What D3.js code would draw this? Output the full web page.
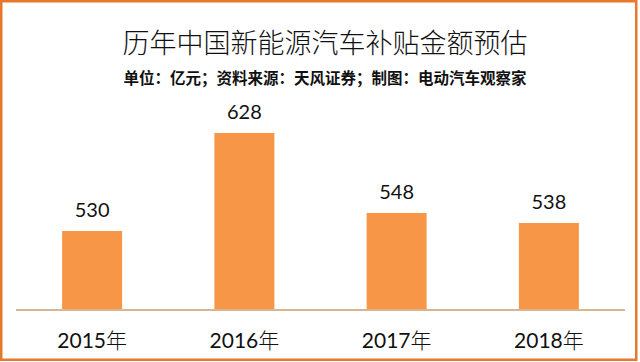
<!DOCTYPE html>
<html><head><meta charset="utf-8">
<script src="https://cdn.jsdelivr.net/npm/d3@7"></script>
<style>
html,body{margin:0;padding:0;background:#fff;}
svg{display:block;}
</style></head>
<body>
<svg id="chart" width="640" height="362"></svg>
<script>
const categories = ["2015年", "2016年", "2017年", "2018年"];
const values = [530, 628, 548, 538];
const title = "历年中国新能源汽车补贴金额预估";
const subtitle = "单位：亿元；资料来源：天风证券；制图：电动汽车观察家";

const W = 640, H = 362;
const svg = d3.select("#chart");

svg.append("rect").attr("x", 1.25).attr("y", 1.25).attr("width", 635).attr("height", 358.5)
  .attr("fill", "#fff").attr("stroke", "#e57a2c").attr("stroke-width", 2.5);

const x = d3.scaleBand().domain(categories).range([16, 625]).paddingInner(0.606).paddingOuter(0.303);
const y = d3.scaleLinear().domain([450, 650]).range([311, 111]);

const cjk = "Lato, 'Noto Sans CJK SC', sans-serif";

svg.append("text").attr("x", 325).attr("y", 53).attr("text-anchor", "middle")
  .attr("font-family", "'Noto Sans CJK SC', sans-serif").attr("font-weight", 300)
  .attr("font-size", 27).attr("fill", "#111").text(title);

svg.append("text").attr("x", 325).attr("y", 84).attr("text-anchor", "middle")
  .attr("font-family", "'Noto Sans CJK SC', sans-serif").attr("font-weight", 700)
  .attr("font-size", 15.5).attr("fill", "#111").text(subtitle);

svg.selectAll("rect.bar").data(values).enter().append("rect").attr("class", "bar")
  .attr("x", (d, i) => x(categories[i])).attr("width", x.bandwidth())
  .attr("y", d => y(d)).attr("height", d => y(450) - y(d))
  .attr("fill", "#f79646");

svg.selectAll("text.val").data(values).enter().append("text").attr("class", "val")
  .attr("x", (d, i) => x(categories[i]) + x.bandwidth() / 2)
  .attr("y", d => y(d) - 14).attr("text-anchor", "middle")
  .attr("font-family", cjk).attr("font-size", 20).attr("fill", "#111").text(d => d);

const axis = svg.append("g").attr("transform", "translate(0,310)")
  .call(d3.axisBottom(x).tickSize(0).tickPadding(0));
axis.select(".domain").attr("stroke", "#d6b792").attr("stroke-width", 2).attr("d", "M16,0H625");
axis.selectAll(".tick text").attr("dy", 0).attr("y", 38)
  .attr("font-family", cjk).attr("font-size", 21).attr("fill", "#111")
  .each(function(d) {
    const t = d3.select(this);
    t.text(null);
    t.append("tspan").text(d.replace("年", ""));
    t.append("tspan").attr("font-family", "'Noto Sans CJK SC', sans-serif")
      .attr("font-weight", 300).text("年");
  });
</script>
</body></html>
